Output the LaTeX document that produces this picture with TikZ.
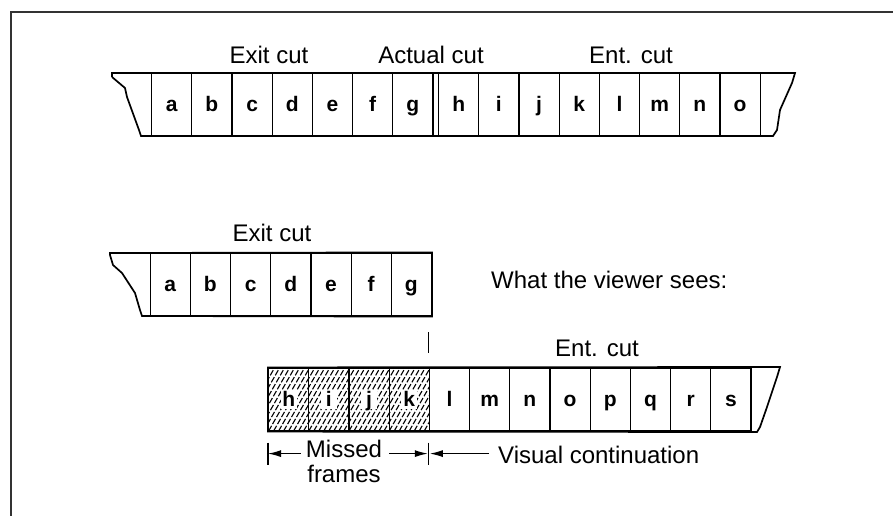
\documentclass[tikz,border=0pt]{standalone}
\usepackage{fontspec}
\setmainfont{Liberation Sans}
\usetikzlibrary{positioning,arrows.meta,calc}

\tikzset{
  frame/.style={draw,line width=1.2pt,minimum width=40.2pt,minimum height=63pt,
    inner sep=0pt,anchor=west,text height=17pt,text depth=3pt,
    font=\fontsize{21}{21}\selectfont\bfseries},
  hatched/.style={path picture={
    \foreach \s in {-60,-55,...,42}
      \draw [line width=1.1pt,dash pattern=on 6pt off 2pt]
        ($(path picture bounding box.south west)+(\s,0)$) -- ++(37,-65) ;
    \fill [white] ($(path picture bounding box.center)+(-8,-10)$) rectangle ++(16,19) ;
  }},
  caption/.style={font=\fontsize{24}{27}\selectfont,inner sep=1pt},
  edge/.style={line width=1.7pt},
  tick/.style={line width=1.2pt},
}

\begin{document}
\begin{tikzpicture}[x=1pt,y=-1pt,
  >={Latex[length=13pt,width=7pt]},
  ]
	\useasboundingbox (0,0) rectangle (893,516) ;
	% page frame
	\draw [line width=2.5pt,black!80] (11,516) -- (11,12) -- (893,12) ;

	% whole film strip
	\foreach \f [count=\i from 0] in {a,b,c,d,e,f,g}
		\node [frame] (top-\f) at (151+40.2*\i,104.5) {\f} ;
	\foreach \f [count=\i from 0] in {h,i,j,k,l,m,n,o}
		\node [frame] (top-\f) at (438+40.2*\i,104.5) {\f} ;
	\draw [edge] (112,77) -- (112,73) -- (795,73) -- (792,83) -- (780,110) -- (777,130) -- (773,136)
		-- (141,136) -- (139,130) -- (127,97) -- (125,88) -- (112,77) ;
	\draw [tick] (top-g.north east) ++(-0.6,0) -- ++(0,63) ;
	\node [caption] (exit) at (269,55) {Exit cut} ;
	\node [caption] (actual) at (431,55) {Actual cut} ;
	\node [caption] (ent) at (631,55) {Ent. cut} ;

	% outgoing shot
	\foreach \f [count=\i from 0] in {a,b,c,d,e,f,g}
		\node [frame] (mid-\f) at (149.5+40.2*\i,284.5) {\f} ;
	\draw [edge] (110,255) -- (110,253) -- (mid-g.north east) -- (mid-g.south east) -- (142,316)
		-- (140,310) -- (135,293) -- (122,273) -- (113,265) -- (110,255) ;
	\node [caption] (exit2) at (272,233) {Exit cut} ;
	\node [caption,anchor=west] (sees) at (490,280) {What the viewer sees:} ;

	% incoming shot
	\foreach \f [count=\i from 0] in {h,i,j,k}
		\node [frame,hatched] (bot-\f) at (268+40.2*\i,399.5) {\f} ;
	\foreach \f [count=\i from 4] in {l,m,n,o,p,q,r,s}
		\node [frame] (bot-\f) at (268+40.2*\i,399.5) {\f} ;
	\draw [edge] (bot-h.north west) -- (780,367) -- (777,377) -- (767,407) -- (760,427) -- (757,432)
		-- (bot-h.south west) -- cycle ;
	\draw [tick] ($(bot-l.north west)+(0,-35)$) -- ++(0,21) ;
	\node [caption] (ent2) at (597,348) {Ent. cut} ;

	% dimension marks
	\coordinate (dim-l) at ($(bot-h.south west)+(0,22)$) ;
	\coordinate (dim-m) at ($(bot-l.south west)+(0,22)$) ;
	\draw [tick] (dim-l) ++(0,-11) -- ++(0,22) ;
	\draw [tick] (dim-m) ++(0,-11) -- ++(0,22) ;
	\node [caption] (missed) at (344,449) {Missed} ;
	\node [caption] (frames) at (344,474) {frames} ;
	\node [caption,anchor=west] (visual) at (497,455) {Visual continuation} ;
	\draw [->,tick] ([xshift=-4pt]missed.west |- dim-l) -- (dim-l) ;
	\draw [->,tick] ([xshift=6pt]missed.east |- dim-m) -- ([xshift=-1pt]dim-m) ;
	\draw [->,tick] ([xshift=-8pt]visual.west |- dim-m) -- ([xshift=1pt]dim-m) ;
\end{tikzpicture}
\end{document}
